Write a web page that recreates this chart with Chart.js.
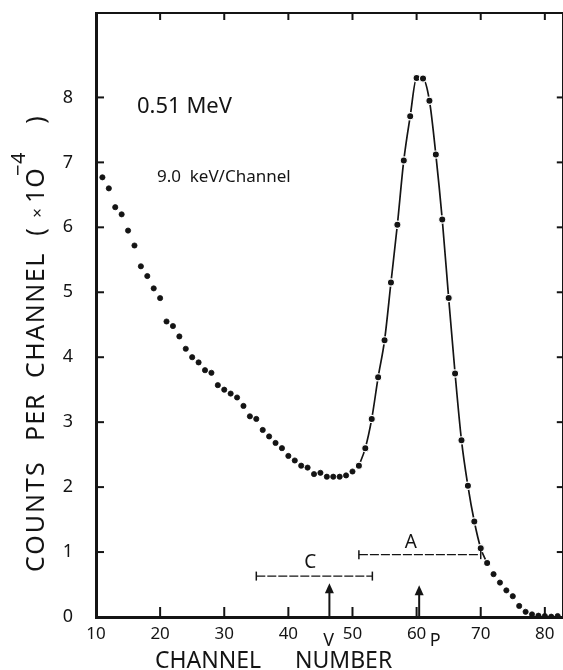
<!DOCTYPE html>
<html>
<head>
<meta charset="utf-8">
<script src="https://cdn.jsdelivr.net/npm/chart.js@4.4.1/dist/chart.umd.min.js"></script>
<style>
html,body{margin:0;padding:0;overflow:hidden;background:#fff;width:563px;height:670px}
canvas{display:block}
</style>
</head>
<body>
<canvas id="c" width="568" height="670" style="width:568px;height:670px"></canvas>
<script>
// ---- data ----
const channels = [11,12,13,14,15,16,17,18,19,20,
  21,22,23,24,25,26,27,28,29,30,
  31,32,33,34,35,36,37,38,39,40,
  41,42,43,44,45,46,47,48,49,50,
  51,52,53,54,55,56,57,58,59,60,
  61,62,63,64,65,66,67,68,69,70,
  71,72,73,74,75,76,77,78,79,80,81,82];
const counts = [6.77,6.60,6.31,6.20,5.95,5.72,5.40,5.25,5.06,4.91,
  4.55,4.48,4.32,4.13,4.00,3.92,3.80,3.76,3.57,3.50,
  3.44,3.38,3.25,3.09,3.05,2.88,2.78,2.68,2.60,2.48,
  2.41,2.33,2.30,2.20,2.22,2.16,2.16,2.16,2.18,2.24,
  2.33,2.60,3.05,3.69,4.26,5.15,6.04,7.03,7.71,8.30,
  8.29,7.95,7.12,6.12,4.91,3.75,2.72,2.02,1.47,1.06,
  0.83,0.66,0.53,0.41,0.32,0.17,0.08,0.04,0.02,0.015,0.005,0.015];
const curveFirstChannel = 51;
const curveLastChannel = 71;

const xTicks = [10,20,30,40,50,60,70,80];
const yTicks = [0,1,2,3,4,5,6,7,8];

// interval bars (C, A)
const barNames = ['C','A'];
const barStart = [35.0, 51.0];
const barEnd   = [53.1, 70.0];
const barLevel = [0.63, 0.96];
const barNameX = [43.4, 59.1];
const barNameY = [0.84, 1.15];

// arrows (V = valley, P = peak)
const arrowNames = ['V','P'];
const arrowChannel = [46.4, 60.4];
const arrowTip = [0.52, 0.49];
const arrowNameX = [46.3, 62.9];

// text notes
const notes = ['0.51 MeV','9.0  keV/Channel'];
const noteX = [16.4, 19.5];
const noteY = [7.86, 6.78];

const xMin = 10, xMax = 82.8, yMin = 0, yMax = 9.3;
const FONT = '"Noto Sans", "DejaVu Sans", sans-serif';
const INK = '#141414';

const points = channels.map((c,i)=>({x:c, y:counts[i]}));
const curve = points.filter(p=>p.x>=curveFirstChannel && p.x<=curveLastChannel);
const onCurve = p => p && p.x>=curveFirstChannel && p.x<=curveLastChannel;

const noPad = s => { s.paddingTop=0; s.paddingBottom=0; s.paddingLeft=0; s.paddingRight=0; };

const decor = {
  id:'decor',
  afterDraw(chart){
    const {ctx, chartArea:a, scales:{x,y}} = chart;
    ctx.save();
    ctx.strokeStyle = INK; ctx.fillStyle = INK;
    const line=(x1,y1,x2,y2,w)=>{ctx.lineWidth=w;ctx.beginPath();ctx.moveTo(x1,y1);ctx.lineTo(x2,y2);ctx.stroke();};
    // inward ticks
    xTicks.forEach(v=>{
      if(v<=xMin) return;
      const px=x.getPixelForValue(v);
      line(px,a.bottom,px,a.bottom-10,2);
      line(px,a.top,px,a.top+7,2);
    });
    yTicks.forEach(v=>{
      if(v<=yMin) return;
      const py=y.getPixelForValue(v);
      line(a.left,py,a.left+8,py,2);
      line(a.right,py,a.right-6,py,2);
    });
    // interval bars
    barNames.forEach((n,i)=>{
      const x1=x.getPixelForValue(barStart[i]), x2=x.getPixelForValue(barEnd[i]), py=y.getPixelForValue(barLevel[i]);
      ctx.setLineDash([9,2]);
      line(x1,py,x2,py,1.3);
      ctx.setLineDash([]);
      line(x1,py-4.5,x1,py+4.5,1.5);
      line(x2,py-4.5,x2,py+4.5,1.5);
      ctx.font = '19px '+FONT; ctx.textAlign='center'; ctx.textBaseline='middle';
      ctx.fillText(n, x.getPixelForValue(barNameX[i]), y.getPixelForValue(barNameY[i]));
    });
    // arrows
    arrowNames.forEach((n,i)=>{
      const px=x.getPixelForValue(arrowChannel[i]), tip=y.getPixelForValue(arrowTip[i]);
      line(px,a.bottom,px,tip+8,2);
      ctx.beginPath(); ctx.moveTo(px,tip); ctx.lineTo(px-4.5,tip+10); ctx.lineTo(px+4.5,tip+10); ctx.closePath(); ctx.fill();
      ctx.font = '18px '+FONT; ctx.textAlign='center'; ctx.textBaseline='middle';
      ctx.fillText(n, x.getPixelForValue(arrowNameX[i]), a.bottom+24);
    });
    // notes
    ctx.textAlign='left'; ctx.textBaseline='middle';
    ctx.font='22px '+FONT;
    ctx.fillText(notes[0], x.getPixelForValue(noteX[0]), y.getPixelForValue(noteY[0]));
    ctx.font='17px '+FONT;
    ctx.fillText(notes[1], x.getPixelForValue(noteX[1]), y.getPixelForValue(noteY[1]));
    // x axis title
    ctx.font='23px '+FONT;
    ctx.fillText('CHANNEL', 155, 661);
    ctx.fillText('NUMBER', 295, 661);
    // y axis title (rotated)
    const vt=(t,cx,yStart,size,align,sp)=>{
      ctx.save(); ctx.translate(cx,yStart); ctx.rotate(-Math.PI/2);
      ctx.font=size+'px '+FONT; ctx.textAlign=align||'left'; ctx.textBaseline='middle';
      ctx.letterSpacing = (sp||0)+'px';
      ctx.fillText(t,0,0); ctx.restore();
    };
    vt('COUNTS',37,572,25,'left',2);
    vt('PER',37,441,25,'left',1);
    vt('CHANNEL',37,378,25,'left',1.5);
    vt('(',37,232,25,'center');
    vt('\u00d7',38,213,17,'center');
    vt('1O',37,203,25,'left',1);
    vt('\u2212',19,176,20);
    vt('4',19,164,20);
    vt(')',37,120,25,'center');
    ctx.restore();
  }
};

new Chart(document.getElementById('c'), {
  type:'scatter',
  data:{datasets:[
    {
      label:'counts', data:points, showLine:false, order:0,
      backgroundColor:INK,
      pointRadius: c=>onCurve(c.raw)?3.6:2.6,
      pointBorderWidth: c=>onCurve(c.raw)?1.2:0.8,
      pointBorderColor: c=>onCurve(c.raw)?'#fff':INK
    },
    {
      label:'fit', data:curve, showLine:true, order:1,
      borderColor:INK, borderWidth:1.7, pointRadius:0,
      cubicInterpolationMode:'monotone', fill:false
    }
  ]},
  options:{
    responsive:false, animation:false, devicePixelRatio:1,
    layout:{padding:0},
    plugins:{legend:{display:false}, tooltip:{enabled:false}},
    scales:{
      x:{
        type:'linear', position:'bottom', min:xMin, max:xMax,
        afterBuildTicks:s=>{s.ticks=xTicks.map(v=>({value:v}));},
        afterFit:s=>{s.height=53; noPad(s);},
        grid:{display:false, drawTicks:false},
        border:{display:true, color:INK, width:3},
        ticks:{color:INK, font:{family:FONT,size:17}, padding:7, maxRotation:0, autoSkip:false,
               callback:v=>String(v)}
      },
      xTop:{
        type:'linear', position:'top', min:xMin, max:xMax,
        afterFit:s=>{s.height=13; noPad(s);},
        grid:{display:false, drawTicks:false},
        border:{display:true, color:INK, width:2},
        ticks:{display:false}
      },
      y:{
        type:'linear', position:'left', min:yMin, max:yMax,
        afterBuildTicks:s=>{s.ticks=yTicks.map(v=>({value:v}));},
        afterFit:s=>{s.width=96; noPad(s);},
        grid:{display:false, drawTicks:false},
        border:{display:true, color:INK, width:3},
        ticks:{color:INK, font:{family:FONT,size:18}, padding:23, autoSkip:false}
      },
      yRight:{
        type:'linear', position:'right', min:yMin, max:yMax,
        afterFit:s=>{s.width=3; noPad(s);},
        grid:{display:false, drawTicks:false},
        border:{display:true, color:INK, width:2},
        ticks:{display:false}
      }
    }
  },
  plugins:[decor]
});
</script>
</body>
</html>
